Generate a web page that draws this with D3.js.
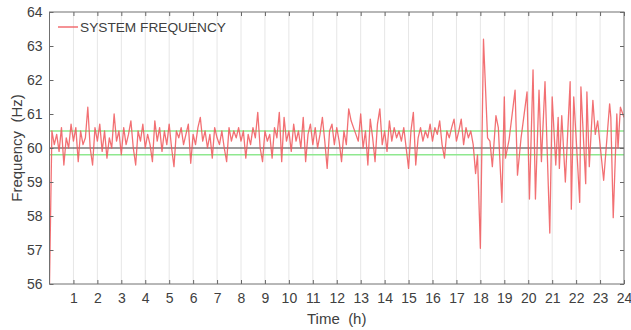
<!DOCTYPE html>
<html>
<head>
<meta charset="utf-8">
<script src="https://cdn.jsdelivr.net/npm/d3@7"></script>
<style>
  body { margin: 0; background: #fff; }
  svg { display: block; font-family: "Liberation Sans", Arial, sans-serif; }
</style>
</head>
<body>
<svg id="chart" width="631" height="330"></svg>
<script>
// frequency samples, one every 0.1 h from 0.0 to 17.7 h
var step = 0.1;
var baseFreq = [
  56.0, 60.5, 60.1, 60.4, 59.9, 60.6, 59.5, 60.3, 60.0, 60.7,
  60.2, 60.6, 59.6, 60.5, 60.1, 60.3, 61.2, 60.0, 59.5, 60.6,
  60.2, 60.7, 59.9, 60.5, 59.7, 60.3, 60.0, 61.0, 60.2, 60.5,
  59.8, 60.6, 60.1, 60.4, 60.8, 60.0, 59.5, 60.5, 60.2, 60.7,
  60.0, 60.4, 60.1, 59.6, 60.8, 60.2, 60.6, 59.9, 60.5, 60.1,
  60.7, 60.0, 59.45, 60.5, 60.3, 60.6, 60.1, 60.4, 60.7, 59.55,
  60.4, 60.1, 60.6, 60.9, 60.2, 60.5, 60.0, 60.4, 59.7, 60.6,
  60.3, 60.1, 60.5, 60.0, 59.6, 60.6, 60.2, 60.5, 60.3, 60.6,
  60.2, 60.5, 59.7, 60.4, 60.1, 60.6, 60.3, 61.05, 60.0, 59.6,
  60.5, 60.2, 60.4, 59.7, 60.6, 60.3, 61.05, 59.6, 60.9, 60.2,
  60.5, 59.9, 60.7, 60.2, 60.5, 60.0, 60.9, 59.6, 60.4, 60.7,
  60.1, 60.6, 60.0, 60.4, 60.9, 60.2, 59.4, 60.5, 60.7, 60.1,
  60.6, 60.2, 59.6, 60.5, 60.1, 61.15, 60.8, 60.6, 60.4, 60.2,
  61.0, 60.0, 60.5, 59.5, 60.85, 60.3, 59.6, 60.7, 61.15, 60.1,
  60.5, 59.9, 60.8, 60.2, 60.6, 60.3, 60.5, 60.2, 60.6, 60.0,
  59.4, 60.5, 61.05, 59.5, 60.3, 60.6, 60.2, 60.5, 60.3, 60.7,
  60.2, 60.6, 60.4, 60.8, 60.1, 59.7, 60.5, 60.3, 60.6, 60.85,
  60.2, 60.5, 60.85, 60.1, 60.6, 60.3, 60.5, 60.1
];
// the disturbed part after 17.7 h, irregular sample times
var tailHours = [17.8, 17.88, 18.0, 18.13, 18.3, 18.4, 18.5, 18.65, 18.75, 18.9,
  19.0, 19.05, 19.2, 19.45, 19.55, 19.7, 19.95, 20.05, 20.2, 20.3,
  20.45, 20.55, 20.7, 20.9, 21.0, 21.15, 21.25, 21.3, 21.4, 21.55,
  21.75, 21.8, 21.9, 22.0, 22.15, 22.2, 22.4, 22.45, 22.55, 22.7,
  22.8, 22.9, 23.15, 23.4, 23.45, 23.55, 23.7, 23.75, 23.85, 24.0];
var tailFreq = [59.25, 59.8, 57.05, 63.2, 60.3, 60.2, 59.45, 60.95, 60.6, 58.4,
  61.5, 59.7, 60.25, 61.7, 59.2, 60.3, 61.65, 58.5, 62.3, 58.5,
  61.7, 59.6, 61.95, 57.5, 61.5, 59.5, 60.9, 59.4, 60.95, 59.0,
  61.95, 58.2, 61.5, 60.3, 58.4, 61.8, 58.95, 61.65, 59.45, 61.4,
  60.4, 60.8, 59.05, 61.3, 60.9, 57.95, 61.0, 60.0, 61.2, 60.9];

var xTicks = d3.range(1, 25);
var yTicks = [56, 57, 58, 59, 60, 61, 62, 63, 64];
var limitLines = [60.5, 59.8];   // green band
var nominal = 60;
var redColor = "#f0575b";

var points = [];
baseFreq.forEach(function (v, i) { points.push([i * step, v]); });
tailFreq.forEach(function (v, i) { points.push([tailHours[i], v]); });

var plotL = 49.5, plotR = 624, plotT = 12, plotB = 284;
var x = d3.scaleLinear().domain([0, 24]).range([plotL, plotR]);
var y = d3.scaleLinear().domain([56, 64]).range([plotB, plotT]);

var svg = d3.select("#chart");

svg.append("defs").append("clipPath").attr("id", "clip")
  .append("rect")
  .attr("x", plotL).attr("y", plotT)
  .attr("width", plotR - plotL).attr("height", plotB - plotT);

// vertical grid
svg.append("g").selectAll("line")
  .data(xTicks.slice(0, -1))
  .enter().append("line")
  .attr("x1", function (d) { return x(d); })
  .attr("x2", function (d) { return x(d); })
  .attr("y1", plotT).attr("y2", plotB)
  .style("stroke", "#e6e6e6")
  .style("stroke-width", 1);

// green limits
svg.append("g").selectAll("line")
  .data(limitLines)
  .enter().append("line")
  .attr("x1", plotL).attr("x2", plotR)
  .attr("y1", function (d) { return y(d); })
  .attr("y2", function (d) { return y(d); })
  .style("stroke", "#8fe88f")
  .style("stroke-width", 1.6);

svg.append("line")
  .attr("x1", plotL).attr("x2", plotR)
  .attr("y1", y(nominal)).attr("y2", y(nominal))
  .style("stroke", "#3a3a3a")
  .style("stroke-width", 1.2);

var line = d3.line()
  .x(function (d) { return x(d[0]); })
  .y(function (d) { return y(d[1]); });

svg.append("path")
  .datum(points)
  .attr("clip-path", "url(#clip)")
  .attr("d", line)
  .style("fill", "none")
  .style("stroke", redColor)
  .style("stroke-width", 1.3)
  .style("stroke-linejoin", "round")
  .style("opacity", 0.85);

// axes, MATLAB box style with ticks inside
function styleAxis(g) {
  g.select(".domain").remove();
  g.selectAll(".tick line").style("stroke", "#666");
  g.selectAll(".tick text")
    .style("fill", "#404040")
    .style("font-size", "14px");
}

svg.append("g")
  .attr("transform", "translate(0," + plotB + ")")
  .call(d3.axisBottom(x).tickValues(xTicks).tickSizeInner(-4).tickSizeOuter(0).tickPadding(9))
  .call(styleAxis);

svg.append("g")
  .attr("transform", "translate(0," + plotT + ")")
  .call(d3.axisTop(x).tickValues(xTicks).tickSizeInner(-4).tickSizeOuter(0).tickFormat(""))
  .call(styleAxis);

svg.append("g")
  .attr("transform", "translate(" + plotL + ",0)")
  .call(d3.axisLeft(y).tickValues(yTicks).tickSizeInner(-4).tickSizeOuter(0).tickPadding(7))
  .call(styleAxis);

svg.append("g")
  .attr("transform", "translate(" + plotR + ",0)")
  .call(d3.axisRight(y).tickValues(yTicks).tickSizeInner(-4).tickSizeOuter(0).tickFormat(""))
  .call(styleAxis);

svg.append("rect")
  .attr("x", plotL).attr("y", plotT)
  .attr("width", plotR - plotL).attr("height", plotB - plotT)
  .style("fill", "none")
  .style("stroke", "#707070")
  .style("stroke-width", 1);

// legend
svg.append("line")
  .attr("x1", 58).attr("x2", 78)
  .attr("y1", 27).attr("y2", 27)
  .style("stroke", redColor)
  .style("stroke-width", 1.3);
svg.append("text")
  .attr("x", 80).attr("y", 32)
  .attr("textLength", 146)
  .attr("lengthAdjust", "spacingAndGlyphs")
  .style("font-size", "13px")
  .style("fill", "#404040")
  .text("SYSTEM FREQUENCY");

// axis titles
svg.append("text")
  .attr("transform", "translate(22," + ((plotT + plotB) / 2) + ") rotate(-90)")
  .attr("text-anchor", "middle")
  .style("font-size", "15px")
  .style("fill", "#404040")
  .style("white-space", "pre")
  .text("Frequency  (Hz)");

svg.append("text")
  .attr("x", (plotL + plotR) / 2).attr("y", 324)
  .attr("text-anchor", "middle")
  .style("font-size", "15px")
  .style("fill", "#404040")
  .style("white-space", "pre")
  .text("Time  (h)");
</script>
</body>
</html>
